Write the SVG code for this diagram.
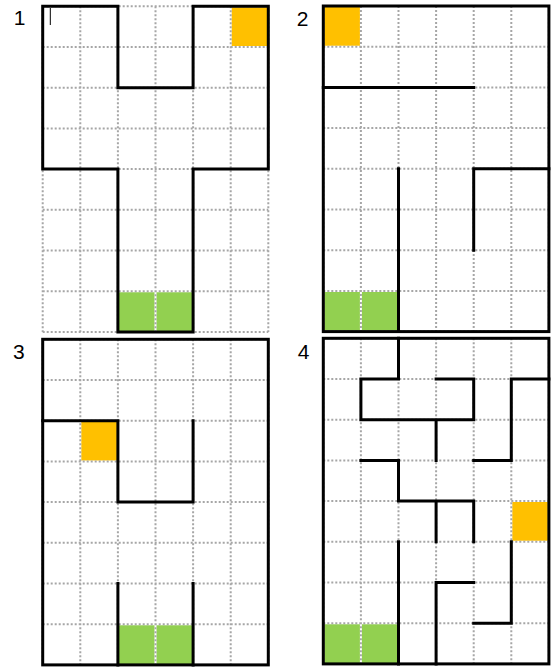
<svg xmlns="http://www.w3.org/2000/svg" xmlns:xlink="http://www.w3.org/1999/xlink" width="555" height="672" viewBox="0 0 555 672">
<style>
.bg{fill:#ffffff}
.gw{fill:none;stroke:#ffffff;stroke-width:2}
.gd{fill:none;stroke:#a6a6a6;stroke-width:2;stroke-dasharray:2 2}
.wall{fill:none;stroke:#000000;stroke-width:3;stroke-linecap:square;stroke-linejoin:miter}
.thin{fill:none;stroke:#000000;stroke-width:1}
.or{fill:#ffc000}
.gr{fill:#92d050}
.lbl{font-family:"Liberation Sans",Arial,sans-serif;font-size:21px;fill:#000000}
</style>
<defs>
<path id="grid" d="M0 0V325.6M37.6 0V325.6M75.2 0V325.6M112.8 0V325.6M150.4 0V325.6M188 0V325.6M225.6 0V325.6M0 0H225.6M0 40.7H225.6M0 81.4H225.6M0 122.1H225.6M0 162.8H225.6M0 203.5H225.6M0 244.2H225.6M0 284.9H225.6M0 325.6H225.6"/>
</defs>
<rect class="bg" x="0" y="0" width="555" height="672"/>
<text class="lbl" x="13.7" y="25">1</text>
<text class="lbl" x="296.7" y="26">2</text>
<text class="lbl" x="13" y="358.7">3</text>
<text class="lbl" x="297.8" y="358.7">4</text>

<g id="panel1" transform="translate(42.7,6.3)">
<rect class="or" x="188" y="0" width="37.6" height="40.7"/>
<rect class="gr" x="75.2" y="284.9" width="75.2" height="40.7"/>
<use xlink:href="#grid" class="gw"/>
<use xlink:href="#grid" class="gd"/>
<g id="walls1">
<path class="wall" d="M75.2 0H0V162.8H75.2V325.6H150.4V162.8H225.6V0H150.4V81.4H75.2Z"/>
<line class="thin" x1="7.6" y1="1.7" x2="7.6" y2="18.7"/>
</g>
</g>

<g id="panel2" transform="translate(323.3,6)">
<rect class="or" x="0" y="0" width="37.6" height="40.7"/>
<rect class="gr" x="0" y="284.9" width="75.2" height="40.7"/>
<use xlink:href="#grid" class="gw"/>
<use xlink:href="#grid" class="gd"/>
<g id="walls2">
<rect class="wall" x="0" y="0" width="225.6" height="325.6"/>
<path class="wall" d="M0 81.4H150.4M75.2 162.8V325.6M225.6 162.8H150.4V244.2"/>
</g>
</g>

<g id="panel3" transform="translate(42.7,339.3)">
<rect class="or" x="37.6" y="81.4" width="37.6" height="40.7"/>
<rect class="gr" x="75.2" y="284.9" width="75.2" height="40.7"/>
<use xlink:href="#grid" class="gw"/>
<use xlink:href="#grid" class="gd"/>
<g id="walls3">
<rect class="wall" x="0" y="0" width="225.6" height="325.6"/>
<path class="wall" d="M0 81.4H75.2V162.8H150.4V81.4M75.2 244.2V325.6M150.4 244.2V325.6"/>
</g>
</g>

<g id="panel4" transform="translate(323.3,338.3)">
<rect class="or" x="188" y="162.8" width="37.6" height="40.7"/>
<rect class="gr" x="0" y="284.9" width="75.2" height="40.7"/>
<use xlink:href="#grid" class="gw"/>
<use xlink:href="#grid" class="gd"/>
<g id="walls4">
<rect class="wall" x="0" y="0" width="225.6" height="325.6"/>
<path class="wall" d="M75.2 0V40.7H37.6V81.4H150.4V40.7H112.8M112.8 81.4V122.1M225.6 40.7H188V122.1H150.4M37.6 122.1H75.2V162.8H150.4V203.5M112.8 162.8V203.5M75.2 203.5V325.6M188 203.5V284.9H150.4M150.4 244.2H112.8V325.6"/>
</g>
</g>
</svg>
